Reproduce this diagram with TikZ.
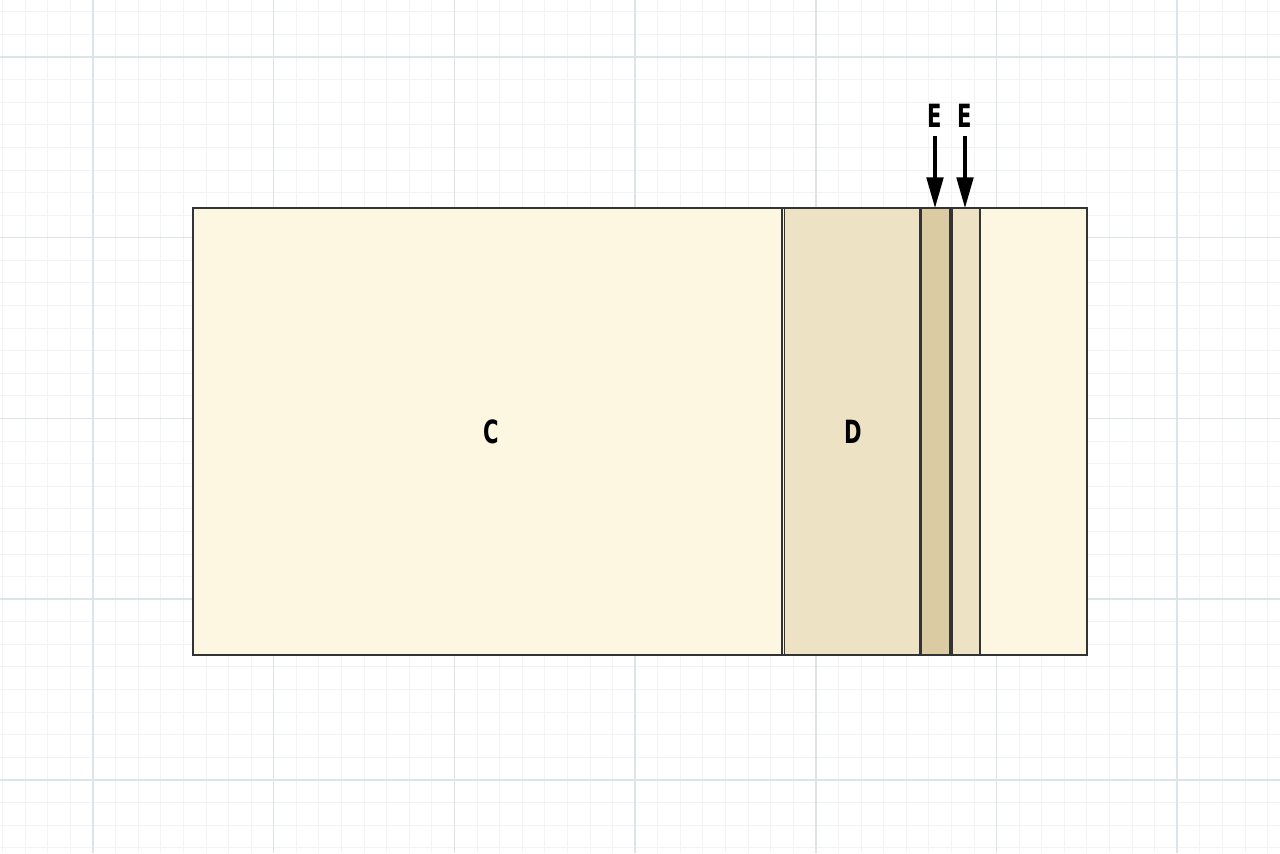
\documentclass[tikz,border=0pt]{standalone}
\usepackage{fontspec}
\usetikzlibrary{arrows.meta}
\newfontfamily\labfont[FakeStretch=0.66]{DejaVu Sans}
\definecolor{gridmajor}{HTML}{DCE4E7}
\definecolor{gridminor}{HTML}{F1F4F5}
\definecolor{fillC}{HTML}{FDF7E1}
\definecolor{fillD}{HTML}{EDE2C3}
\definecolor{fillE}{HTML}{DBCBA3}
\definecolor{edge}{HTML}{333333}
\tikzset{
  block/.style={draw=edge, line width=1.1pt},
  lab/.style={font=\labfont\bfseries\fontsize{24}{26}\selectfont, text=black, inner sep=0pt},
  pointer/.style={line width=2.3pt, -{Triangle[length=23pt, width=12.5pt]}}
}
\begin{document}
\begin{tikzpicture}[x=0.75pt, y=-0.75pt]
\useasboundingbox (0,0) rectangle (1280,853);
\fill[white] (0,0) rectangle (1280,853);
\begin{scope}
\clip (0,0) rectangle (1280,853);
\foreach \i in {-4,...,53} {
  \draw[gridminor, line width=0.6pt] ({93+22.5875*\i},0) -- ({93+22.5875*\i},853);
}
\foreach \i in {-3,...,35} {
  \draw[gridminor, line width=0.6pt] (0,{57+22.5875*\i}) -- (1280,{57+22.5875*\i});
}
\foreach \i in {-1,...,7} {
  \draw[gridmajor, line width=1.1pt] ({93+180.7*\i},0) -- ({93+180.7*\i},853);
}
\foreach \i in {-1,...,5} {
  \draw[gridmajor, line width=1.1pt] (0,{57+180.7*\i}) -- (1280,{57+180.7*\i});
}
\end{scope}
% blocks
\draw[block, fill=fillC] (193,208) rectangle (1087,655);
\draw[block, fill=fillC] (193,208) rectangle (782,655);
\draw[block, fill=fillD] (784.5,208) rectangle (920,655);
\draw[block, fill=fillE] (921.5,208) rectangle (950,655);
\draw[block, fill=fillD] (952,208) rectangle (980,655);
% labels
\node[lab] (c) at (491,432) {C};
\node[lab] (d) at (853,432) {D};
\node[lab] (e1) at (935,116) {E};
\node[lab] (e2) at (965,116) {E};
\coordinate (t1) at (935,208);
\coordinate (t2) at (965,208);
\draw[pointer] ([yshift=-6pt]e1.south) -- (t1);
\draw[pointer] ([yshift=-6pt]e2.south) -- (t2);
\end{tikzpicture}
\end{document}
